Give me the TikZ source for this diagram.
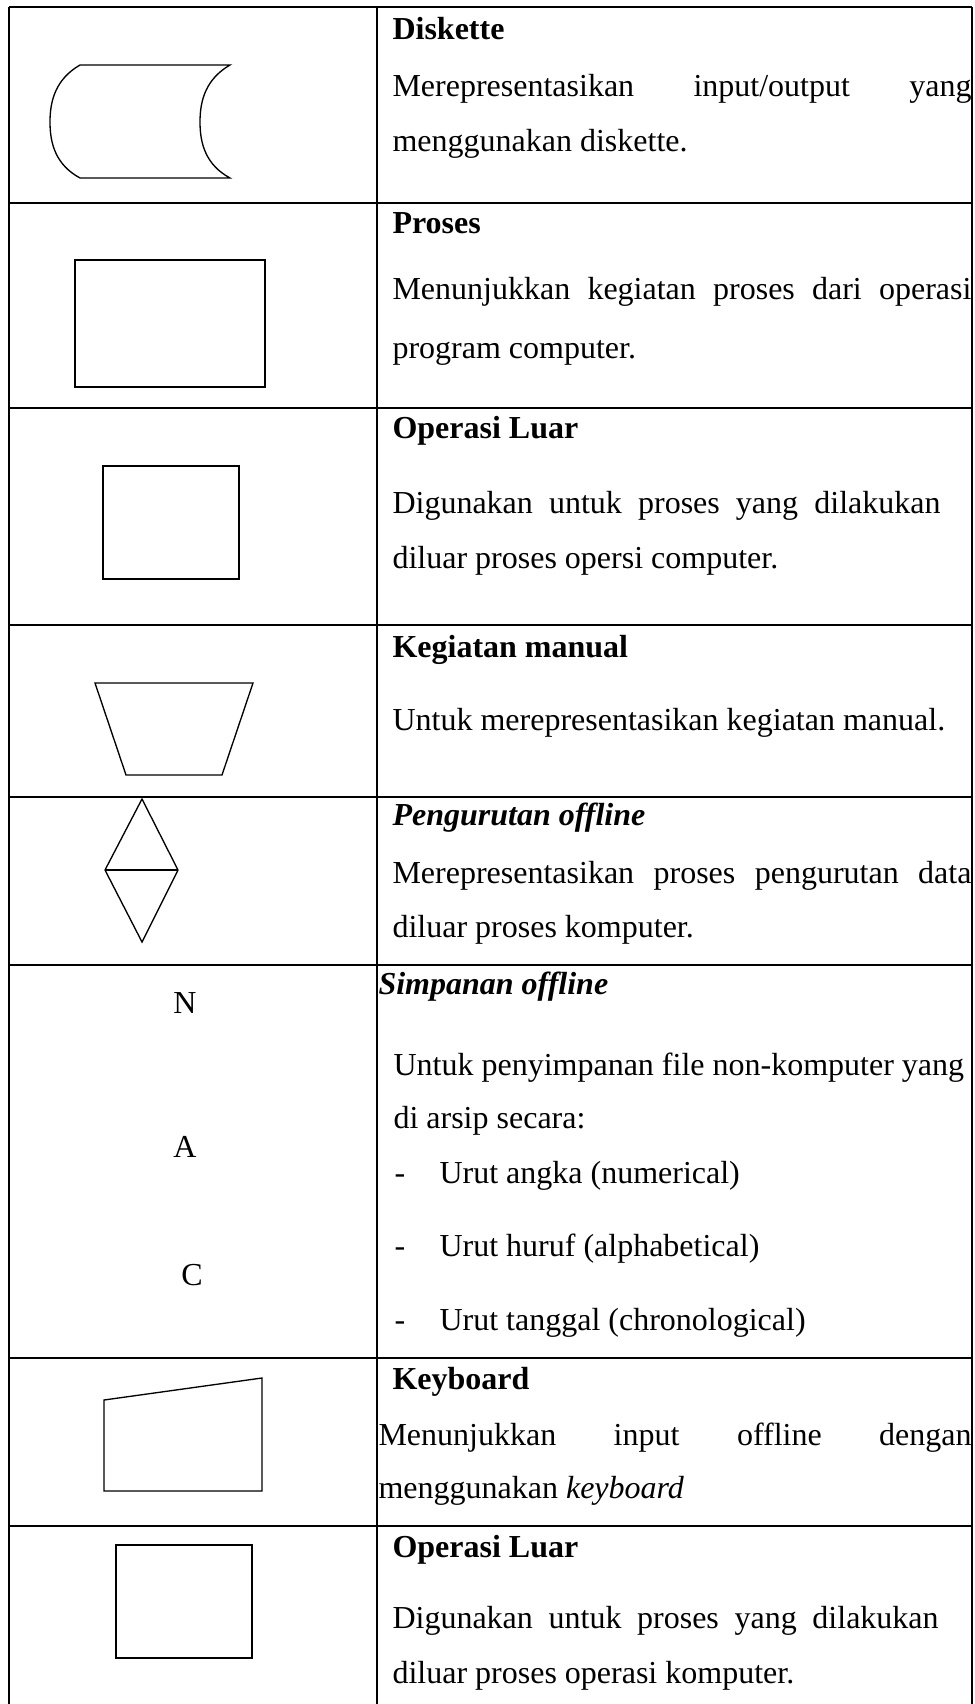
\documentclass[tikz,border=0pt]{standalone}
\usepackage{fontspec}
\setmainfont{Liberation Serif}
\usetikzlibrary{positioning}

\begin{document}
\begin{tikzpicture}[
  x=0.375pt, y=-0.375pt,
  grid/.style={line width=0.75pt, color=black},
  shp/.style={draw, line width=0.5pt},
  txt/.style={anchor=base west, inner sep=0pt, font=\fontsize{12}{14}\selectfont},
  head/.style={txt, font=\fontsize{12}{14}\selectfont\bfseries},
  letter/.style={anchor=base, inner sep=0pt, font=\fontsize{12}{14}\selectfont}
]
\useasboundingbox (0,0) rectangle (974,1704);
% table
\draw[grid] (9,7) -- (9,1704);
\draw[grid] (377,7) -- (377,1704);
\draw[grid] (972,7) -- (972,1704);
\draw[grid] (9,7) -- (972,7);
\draw[grid] (9,203) -- (972,203);
\draw[grid] (9,408) -- (972,408);
\draw[grid] (9,625) -- (972,625);
\draw[grid] (9,797) -- (972,797);
\draw[grid] (9,965) -- (972,965);
\draw[grid] (9,1358) -- (972,1358);
\draw[grid] (9,1526) -- (972,1526);

% symbols
\draw[shp] (80,65) -- (230,65) .. controls (206,79) and (200,100) .. (200,122)
  .. controls (200,144) and (206,165) .. (230,178) -- (80,178)
  .. controls (56,165) and (50,144) .. (50,122) .. controls (50,100) and (56,79) .. cycle;
\draw[shp] (75,260) rectangle (265,387);
\draw[shp] (103,466) rectangle (239,579);
\draw[shp] (95,683) -- (253,683) -- (222,775) -- (126,775) -- cycle;
\draw[shp] (142,799) -- (178,870) -- (142,942) -- (105,870) -- cycle;
\draw[shp] (105,870) -- (178,870);
\node[letter] (ltrN) at (185,1013) {N};
\node[letter] (ltrA) at (185,1157) {A};
\node[letter] (ltrC) at (192,1285) {C};
\draw[shp] (104,1400) -- (262,1378) -- (262,1491) -- (104,1491) -- cycle;
\draw[shp] (116,1545) rectangle (252,1658);

% descriptions
\node[head] (dskT) at (392,40) {Diskette};
\node[txt] (dskA) at (392,97) {\makebox[217.1pt][s]{Merepresentasikan input/output yang}};
\node[txt] (dskB) at (392,152) {menggunakan diskette.};

\node[head] (prsT) at (392,234) {Proses};
\node[txt] (prsA) at (392,300) {\makebox[217.1pt][s]{Menunjukkan kegiatan proses dari operasi}};
\node[txt] (prsB) at (392,359) {program computer.};

\node[head] (oprT) at (392,439) {Operasi Luar};
\node[txt] (oprA) at (392,513) {\makebox[205.5pt][s]{Digunakan untuk proses yang dilakukan}};
\node[txt] (oprB) at (392,568) {diluar proses opersi computer.};

\node[head] (manT) at (392,657) {Kegiatan manual};
\node[txt] (manA) at (392,730) {Untuk merepresentasikan kegiatan manual.};

\node[head] (srtT) at (392,825) {\itshape Pengurutan offline};
\node[txt] (srtA) at (392,883) {\makebox[217.1pt][s]{Merepresentasikan proses pengurutan data}};
\node[txt] (srtB) at (392,937) {diluar proses komputer.};

\node[head] (smpT) at (378,994) {\itshape Simpanan offline};
\node[txt] (smpA) at (393,1075) {Untuk penyimpanan file non-komputer yang};
\node[txt] (smpB) at (393,1128) {di arsip secara:};
\node[txt] (dash1) at (394,1183) {-};
\node[txt] (smpC) at (439,1183) {Urut angka (numerical)};
\node[txt] (dash2) at (394,1256) {-};
\node[txt] (smpD) at (439,1256) {Urut huruf (alphabetical)};
\node[txt] (dash3) at (394,1330) {-};
\node[txt] (smpE) at (439,1330) {Urut tanggal (chronological)};

\node[head] (kbdT) at (392,1389) {Keyboard};
\node[txt] (kbdA) at (378,1445) {\makebox[222.4pt][s]{Menunjukkan input offline dengan}};
\node[txt] (kbdB) at (378,1498) {menggunakan \textit{keyboard}};

\node[head] (olrT) at (392,1557) {Operasi Luar};
\node[txt] (olrA) at (392,1628) {\makebox[204.8pt][s]{Digunakan untuk proses yang dilakukan}};
\node[txt] (olrB) at (392,1683) {diluar proses operasi komputer.};
\end{tikzpicture}
\end{document}
